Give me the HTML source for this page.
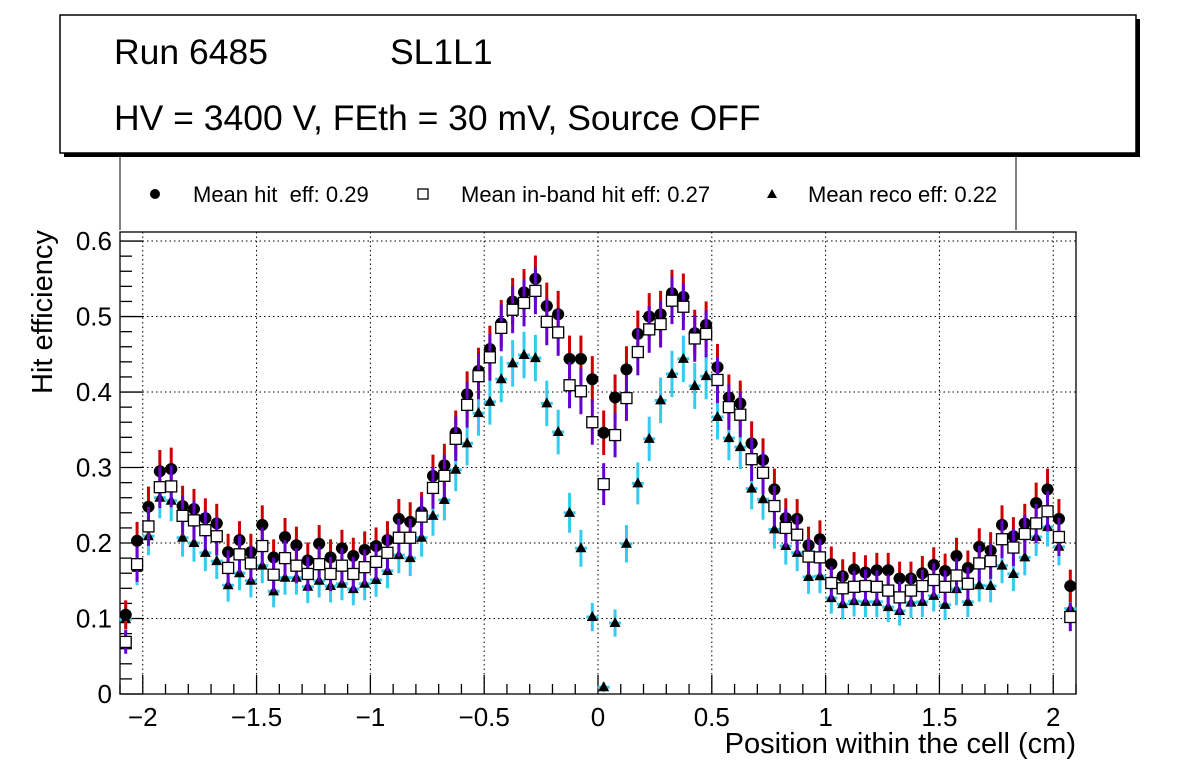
<!DOCTYPE html>
<html><head><meta charset="utf-8">
<style>
body{margin:0;background:#fff;}
svg{display:block;font-family:"Liberation Sans",sans-serif;}
</style></head>
<body>
<svg id="c" width="1196" height="772" viewBox="0 0 1196 772">
  <rect x="0" y="0" width="1196" height="772" fill="#fff"/>
  <rect x="64" y="19" width="1076" height="138" fill="#000"/>
  <rect x="60" y="15" width="1076" height="138" fill="#fff" stroke="#000" stroke-width="1.5"/>
  <text x="114" y="64" font-size="35.5">Run 6485</text>
  <text x="390" y="64" font-size="35.5">SL1L1</text>
  <text x="114" y="130" font-size="35.5">HV = 3400 V, FEth = 30 mV, Source OFF</text>
  <g>
    <line x1="120" y1="157" x2="120" y2="230" stroke="#000" stroke-width="1"/>
    <line x1="1016" y1="157" x2="1016" y2="230" stroke="#000" stroke-width="1"/>
    <g>
      <circle cx="155" cy="194" r="5" fill="#000"/>
      <text x="193" y="202" font-size="22" xml:space="preserve">Mean hit  eff: 0.29</text>
    </g>
    <g>
      <rect x="418" y="189" width="10" height="10" fill="#fff" stroke="#000" stroke-width="1.3"/>
      <text x="461" y="202" font-size="22">Mean in-band hit eff: 0.27</text>
    </g>
    <g>
      <polygon points="772,189 777,198 767,198" fill="#000"/>
      <text x="808" y="202" font-size="22">Mean reco eff: 0.22</text>
    </g>
  </g>
  <g id="grid"></g>
  <g id="axes"></g>
  <g id="marks"></g>
  <text x="0" y="0" font-size="29" transform="translate(52,394) rotate(-90)">Hit efficiency</text>
  <text x="1076" y="753" font-size="29" text-anchor="end">Position within the cell (cm)</text>
</svg>
<script>
const hitEff = [0.105,0.203,0.248,0.295,0.298,0.249,0.245,0.233,0.226,0.188,0.204,0.188,0.224,0.181,0.208,0.197,0.177,0.199,0.181,0.193,0.183,0.191,
0.196,0.204,0.232,0.228,0.241,0.289,0.303,0.346,0.397,0.428,0.457,0.491,0.520,0.532,0.550,0.514,0.503,0.444,0.444,0.417,0.346,
0.393,0.430,0.477,0.500,0.503,0.531,0.526,0.478,0.489,0.433,0.393,0.385,0.332,0.310,0.271,0.233,0.232,0.197,0.205,0.172,
0.156,0.165,0.161,0.164,0.164,0.153,0.153,0.160,0.171,0.163,0.183,0.167,0.195,0.190,0.224,0.209,0.226,0.253,0.271,0.232,0.143];
const inbandEff = [0.069,0.172,0.222,0.274,0.275,0.236,0.230,0.217,0.209,0.167,0.185,0.173,0.196,0.158,0.180,0.170,0.159,0.172,0.159,0.170,0.159,0.168,
0.175,0.187,0.207,0.207,0.235,0.273,0.289,0.338,0.383,0.421,0.446,0.485,0.509,0.518,0.534,0.493,0.479,0.409,0.401,0.360,0.278,
0.343,0.392,0.453,0.483,0.490,0.521,0.513,0.471,0.477,0.416,0.380,0.370,0.311,0.293,0.249,0.220,0.211,0.182,0.181,0.147,
0.140,0.142,0.143,0.142,0.137,0.128,0.137,0.143,0.151,0.142,0.157,0.146,0.173,0.176,0.205,0.194,0.212,0.226,0.242,0.208,0.102];
const recoEff = [0.099,0.167,0.209,0.260,0.256,0.207,0.200,0.187,0.176,0.144,0.160,0.150,0.170,0.136,0.154,0.154,0.142,0.150,0.143,0.146,0.139,0.146,
0.151,0.163,0.184,0.180,0.207,0.236,0.257,0.297,0.332,0.372,0.387,0.417,0.438,0.449,0.445,0.385,0.347,0.240,0.193,0.102,0.009,
0.094,0.199,0.279,0.338,0.389,0.424,0.444,0.408,0.421,0.367,0.339,0.327,0.272,0.258,0.218,0.196,0.187,0.155,0.156,0.127,
0.119,0.123,0.122,0.122,0.115,0.110,0.121,0.122,0.130,0.118,0.139,0.122,0.144,0.143,0.170,0.159,0.181,0.208,0.221,0.195,0.113];
const xTickLabels = ["\u22122","\u22121.5","\u22121","\u22120.5","0","0.5","1","1.5","2"];
const xTickValues = [-2,-1.5,-1,-0.5,0,0.5,1,1.5,2];
const yTickLabels = ["0","0.1","0.2","0.3","0.4","0.5","0.6"];
const yTickValues = [0,0.1,0.2,0.3,0.4,0.5,0.6];
const binLow = -2.1, binWidth = 0.05;

const L=120,R=1076,T=232,B=694;
const X0=-2.1,X1=2.1,Y0=0,Y1=0.612;
const sx=v=>L+(v-X0)/(X1-X0)*(R-L);
const sy=v=>B-(v-Y0)/(Y1-Y0)*(B-T);
const NS="http://www.w3.org/2000/svg";
function mk(tag,attrs,parent){const e=document.createElementNS(NS,tag);for(const k in attrs)e.setAttribute(k,attrs[k]);parent.appendChild(e);return e;}
const grid=document.getElementById('grid'),axes=document.getElementById('axes'),marks=document.getElementById('marks');

xTickValues.forEach(v=>{const l=mk('line',{x1:sx(v),x2:sx(v),y1:T,y2:B,stroke:'#000','stroke-width':1,'stroke-dasharray':'1.5,3'},grid);

});
yTickValues.forEach(v=>{const l=mk('line',{x1:L,x2:R,y1:sy(v),y2:sy(v),stroke:'#000','stroke-width':1,'stroke-dasharray':'1.5,3'},grid);

});

const frame=mk('rect',{x:L,y:T,width:R-L,height:B-T,fill:'none',stroke:'#000','stroke-width':1.3},axes);



for(let i=-21;i<=21;i++){const v=i/10;const major=(i%5===0);
 mk('line',{x1:sx(v),x2:sx(v),y1:B,y2:B-(major?19:10),stroke:'#000','stroke-width':1.3},axes);}
for(let i=0;i<=30;i++){const v=i*0.02;if(v>Y1)break;const major=(i%5===0);
 mk('line',{x1:L,x2:L+(major?23:12),y1:sy(v),y2:sy(v),stroke:'#000','stroke-width':1.3},axes);}

xTickValues.forEach((v,i)=>{const t=mk('text',{x:sx(v),y:726,'font-size':26,'text-anchor':'middle'},axes);t.textContent=xTickLabels[i];

});
yTickValues.forEach((v,i)=>{const t=mk('text',{x:112,y:sy(v)+9,'font-size':26,'text-anchor':'end'},axes);t.textContent=yTickLabels[i];

});

function err(v){return Math.sqrt(Math.max(v*(1-v),0.01)/260);}
function drawSeries(vals,color,kind,name){
 const g=mk('g',{},marks);
 
 
 vals.forEach((v,i)=>{const cx=sx(binLow+binWidth*(i+0.5)),cy=sy(v),e=err(v)*(B-T)/(Y1-Y0);
  mk('line',{x1:cx,x2:cx,y1:cy-e,y2:cy+e,stroke:color,'stroke-width':3},g);
  mk('line',{x1:cx-6,x2:cx+6,y1:cy,y2:cy,stroke:color,'stroke-width':3},g);
  let m;
  if(kind==='circle')m=mk('circle',{cx:cx,cy:cy,r:6,fill:'#000'},g);
  else if(kind==='square')m=mk('rect',{x:cx-5.5,y:cy-5.5,width:11,height:11,fill:'#fff',stroke:'#000','stroke-width':1.3},g);
  else m=mk('polygon',{points:`${cx},${cy-6} ${cx+5.5},${cy+4} ${cx-5.5},${cy+4}`,fill:'#000'},g);
  
  
 });
}
drawSeries(recoEff,'#33ccf0','tri','reco-eff-series');
drawSeries(hitEff,'#cc0000','circle','hit-eff-series');
drawSeries(inbandEff,'#6600cc','square','inband-eff-series');
</script>
</body></html>
